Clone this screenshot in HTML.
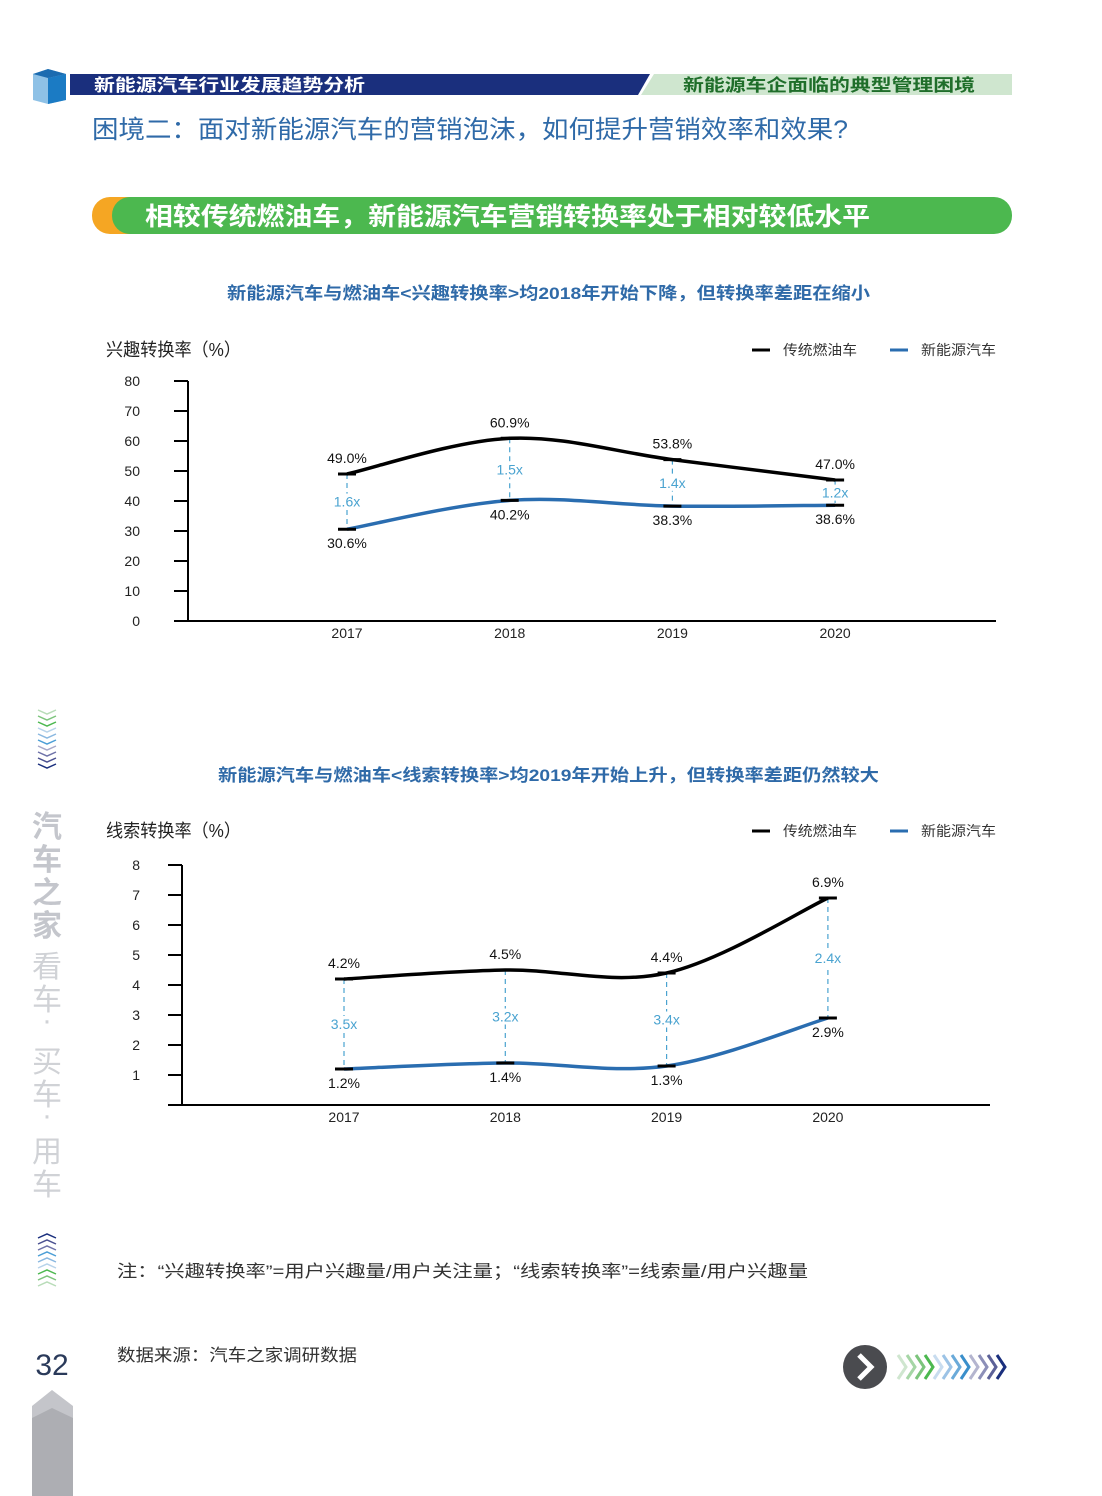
<!DOCTYPE html>
<html><head><meta charset="utf-8">
<style>
body{margin:0;width:1102px;height:1496px;background:#fff;position:relative;overflow:hidden;font-family:"Liberation Sans","Noto Sans CJK SC",sans-serif;}
.abs{position:absolute;}
svg text{font-family:"Liberation Sans","Noto Sans CJK SC",sans-serif;}
</style></head><body>
<svg class="abs" style="left:0;top:0" width="1102" height="1496">
  <g>
    <polygon points="33,74 48,69 66,74 66,100 48,104 33,100" fill="#8ec1e6"/>
    <polygon points="48,78 66,74 66,100 48,104" fill="#1b7bc4"/>
    <polygon points="33,74 48,69 66,74 48,78" fill="#1b6bb0"/>
    <polygon points="70,74 650,74 638,95 70,95" fill="#1a2f7d"/>
    <polygon points="654,74 1012,74 1012,95 641,95" fill="#cfe6cf"/>
    <text x="94" y="91" font-size="17" font-weight="bold" fill="#fff" textLength="271" lengthAdjust="spacingAndGlyphs">新能源汽车行业发展趋势分析</text>
    <text x="683" y="91" font-size="17" font-weight="bold" fill="#1f6e2a" textLength="292" lengthAdjust="spacingAndGlyphs">新能源车企面临的典型管理困境</text>
  </g>
  <text x="92" y="138" font-size="25" fill="#2f6aa8" textLength="756" lengthAdjust="spacingAndGlyphs">困境二：面对新能源汽车的营销泡沫，如何提升营销效率和效果?</text>
  <g>
    <rect x="92" y="197" width="60" height="37" rx="18" fill="#f5a623"/>
    <rect x="112" y="197" width="900" height="37" rx="18" fill="#4cb84f"/>
    <text x="145" y="225" font-size="25" font-weight="bold" fill="#fff" textLength="725" lengthAdjust="spacingAndGlyphs">相较传统燃油车，新能源汽车营销转换率处于相对较低水平</text>
  </g>
  <text x="227" y="299" font-size="17" font-weight="bold" fill="#2f6aa8" textLength="643" lengthAdjust="spacingAndGlyphs">新能源汽车与燃油车&lt;兴趣转换率&gt;均2018年开始下降，但转换率差距在缩小</text>
  <text x="218" y="781" font-size="17" font-weight="bold" fill="#2f6aa8" textLength="661" lengthAdjust="spacingAndGlyphs">新能源汽车与燃油车&lt;线索转换率&gt;均2019年开始上升，但转换率差距仍然较大</text>
  <g id="c1"></g>
  <g id="c2"></g>
  <g>
    <g fill="none" stroke-width="1.5">
      <path d="M38,710 l9,4 l9,-4" stroke="#b8dcb8"/><path d="M38,716 l9,4 l9,-4" stroke="#7cc47c"/><path d="M38,722 l9,4 l9,-4" stroke="#4cb84f"/>
      <path d="M38,728 l9,4 l9,-4" stroke="#b7d3ea"/><path d="M38,734 l9,4 l9,-4" stroke="#8ab8e0"/><path d="M38,740 l9,4 l9,-4" stroke="#4b9ed6"/>
      <path d="M38,746 l9,4 l9,-4" stroke="#a7a9c9"/><path d="M38,752 l9,4 l9,-4" stroke="#6e72a8"/><path d="M38,758 l9,4 l9,-4" stroke="#4a5090"/><path d="M38,764 l9,4 l9,-4" stroke="#1a2f7d"/>
      <path d="M38,1238 l9,-4 l9,4" stroke="#1a2f7d"/><path d="M38,1244 l9,-4 l9,4" stroke="#4a5090"/><path d="M38,1250 l9,-4 l9,4" stroke="#6e72a8"/><path d="M38,1256 l9,-4 l9,4" stroke="#4b9ed6"/>
      <path d="M38,1262 l9,-4 l9,4" stroke="#8ab8e0"/><path d="M38,1268 l9,-4 l9,4" stroke="#b7d3ea"/><path d="M38,1274 l9,-4 l9,4" stroke="#4cb84f"/><path d="M38,1280 l9,-4 l9,4" stroke="#7cc47c"/><path d="M38,1286 l9,-4 l9,4" stroke="#b8dcb8"/>
    </g>
    <text font-size="30" fill="#c4c6cc" font-weight="bold">
      <tspan x="32" y="837">汽</tspan><tspan x="32" y="870">车</tspan><tspan x="32" y="903">之</tspan><tspan x="32" y="936">家</tspan></text>
    <text font-size="30" fill="#d0d2d6">
      <tspan x="32" y="977">看</tspan><tspan x="32" y="1010">车</tspan><tspan x="42" y="1030">·</tspan><tspan x="32" y="1072">买</tspan><tspan x="32" y="1105">车</tspan><tspan x="42" y="1125">·</tspan><tspan x="32" y="1162">用</tspan><tspan x="32" y="1195">车</tspan></text>
    <text x="52" y="1375" font-size="30" fill="#2a3a5a" text-anchor="middle">32</text>
    <polygon points="32,1406 52,1390 73,1406 73,1496 32,1496" fill="#c4c5ca"/>
    <polygon points="32,1418 52,1408 73,1418 73,1496 32,1496" fill="#adaeb3"/>
  </g>
  <text x="117" y="1277" font-size="17" fill="#333" textLength="691" lengthAdjust="spacingAndGlyphs">注：“兴趣转换率”=用户兴趣量/用户关注量；“线索转换率”=线索量/用户兴趣量</text>
  <text x="117" y="1361" font-size="17" fill="#333" textLength="240" lengthAdjust="spacingAndGlyphs">数据来源：汽车之家调研数据</text>
  <g>
    <circle cx="865" cy="1367" r="22" fill="#4a4b4f"/>
    <path d="M859,1355 l12,12 l-12,12" fill="none" stroke="#fff" stroke-width="5"/>
    <g fill="none" stroke-width="3">
      <path d="M898,1355 l8,12 l-8,12" stroke="#cfe6cf"/><path d="M907,1355 l8,12 l-8,12" stroke="#a6d6a6"/><path d="M916,1355 l8,12 l-8,12" stroke="#7cc47c"/><path d="M925,1355 l8,12 l-8,12" stroke="#4cb84f"/>
      <path d="M934,1355 l8,12 l-8,12" stroke="#c8dcef"/><path d="M943,1355 l8,12 l-8,12" stroke="#9cc3e6"/><path d="M952,1355 l8,12 l-8,12" stroke="#6aaad9"/><path d="M961,1355 l8,12 l-8,12" stroke="#3a8fcb"/>
      <path d="M970,1355 l8,12 l-8,12" stroke="#b4b5cf"/><path d="M979,1355 l8,12 l-8,12" stroke="#8c8fb8"/><path d="M988,1355 l8,12 l-8,12" stroke="#5c6198"/><path d="M997,1355 l8,12 l-8,12" stroke="#1a2f7d"/>
    </g>
  </g>
</svg>
<script>
const years=["2017","2018","2019","2020"];
const ice1=[49.0,60.9,53.8,47.0];
const nev1=[30.6,40.2,38.3,38.6];
const ratio1=["1.6x","1.5x","1.4x","1.2x"];
const ticks1=[0,10,20,30,40,50,60,70,80];
const ice2=[4.2,4.5,4.4,6.9];
const nev2=[1.2,1.4,1.3,2.9];
const ratio2=["3.5x","3.2x","3.4x","2.4x"];
const ticks2=[1,2,3,4,5,6,7,8];
const NS="http://www.w3.org/2000/svg";
function mk(g,tag,attrs,txt){const e=document.createElementNS(NS,tag);for(const k in attrs)e.setAttribute(k,attrs[k]);if(txt!==undefined)e.textContent=txt;g.appendChild(e);return e;}
function smooth(p){let d="M"+p[0][0]+","+p[0][1];for(let i=0;i<p.length-1;i++){const p0=p[i-1]||p[i],p1=p[i],p2=p[i+1],p3=p[i+2]||p2;const t=0.17;
d+=" C"+(p1[0]+(p2[0]-p0[0])*t)+","+(p1[1]+(p2[1]-p0[1])*t)+" "+(p2[0]-(p3[0]-p1[0])*t)+","+(p2[1]-(p3[1]-p1[1])*t)+" "+p2[0]+","+p2[1];}return d;}
function chart(id,o){
  const g=document.getElementById(id);
  const y=v=>o.y0-(v-o.vmin)*o.ppu;
  const x=i=>o.x0+i*o.step;
  let t=mk(g,"text",{x:106,y:o.titleY,"font-size":18,fill:"#222",textLength:135,lengthAdjust:"spacingAndGlyphs"},o.ytitle);
  
  
  let ax=mk(g,"line",{x1:o.axX,y1:y(o.vmax),x2:o.axX,y2:o.baseY,stroke:"#000","stroke-width":2});
  
  
  let bx=mk(g,"line",{x1:o.axX-14,y1:o.baseY,x2:o.xEnd,y2:o.baseY,stroke:"#000","stroke-width":2});
  
  
  o.ticks.forEach(v=>{
    let l=mk(g,"line",{x1:o.axX-14,y1:y(v),x2:o.axX,y2:y(v),stroke:"#000","stroke-width":2});
    
    
    let tt=mk(g,"text",{x:140,y:y(v)+5,"font-size":14,fill:"#222","text-anchor":"end"},v);
    
    
  });
  years.forEach((yr,i)=>{let tt=mk(g,"text",{x:x(i),y:o.baseY+17,"font-size":14,fill:"#222","text-anchor":"middle"},yr);});
  let lg=mk(g,"g",{});
  
  
  mk(lg,"line",{x1:752,y1:o.titleY-6,x2:770,y2:o.titleY-6,stroke:"#000","stroke-width":3});
  mk(lg,"text",{x:783,y:o.titleY-1,"font-size":14,fill:"#333",textLength:74,lengthAdjust:"spacingAndGlyphs"},"传统燃油车");
  mk(lg,"line",{x1:890,y1:o.titleY-6,x2:908,y2:o.titleY-6,stroke:"#2a6db0","stroke-width":3});
  mk(lg,"text",{x:921,y:o.titleY-1,"font-size":14,fill:"#333",textLength:75,lengthAdjust:"spacingAndGlyphs"},"新能源汽车");
  const pi=o.ice.map((v,i)=>[x(i),y(v)]), pn=o.nev.map((v,i)=>[x(i),y(v)]);
  o.ice.forEach((v,i)=>{
    let d=mk(g,"line",{x1:x(i),y1:y(v),x2:x(i),y2:y(o.nev[i]),stroke:"#4aa3d0","stroke-width":1.2,"stroke-dasharray":"5,4"});
    
    
  });
  let a=mk(g,"path",{d:smooth(pi),fill:"none",stroke:"#000","stroke-width":3.5});
  
  
  let b=mk(g,"path",{d:smooth(pn),fill:"none",stroke:"#2a6db0","stroke-width":3.5});
  
  
  o.ice.forEach((v,i)=>{
    const xi=x(i),yi=y(v),yn=y(o.nev[i]);
    let m1=mk(g,"line",{x1:xi-9,y1:yi,x2:xi+9,y2:yi,stroke:"#000","stroke-width":3});
    
    
    let m2=mk(g,"line",{x1:xi-9,y1:yn,x2:xi+9,y2:yn,stroke:"#000","stroke-width":3});
    
    
    let l1=mk(g,"text",{x:xi,y:yi-11,"font-size":14,fill:"#111","text-anchor":"middle"},v.toFixed(1)+"%");
    
    
    let l2=mk(g,"text",{x:xi,y:yn+19,"font-size":14,fill:"#111","text-anchor":"middle"},o.nev[i].toFixed(1)+"%");
    
    
    let bg=mk(g,"rect",{x:xi-13,y:(yi+yn)/2-8,width:26,height:16,fill:"#fff"});
    
    
    let r=mk(g,"text",{x:xi,y:(yi+yn)/2+5,"font-size":14,fill:"#4aa3d0","text-anchor":"middle"},o.ratio[i]);
    
    
  });
}
chart("c1",{ytitle:"兴趣转换率（%）",titleY:356,ice:ice1,nev:nev1,ratio:ratio1,ticks:ticks1,vmin:0,vmax:80,y0:621,ppu:3,baseY:621,axX:188,x0:347,step:162.7,xEnd:996});
chart("c2",{ytitle:"线索转换率（%）",titleY:837,ice:ice2,nev:nev2,ratio:ratio2,ticks:ticks2,vmin:0,vmax:8,y0:1105,ppu:30,baseY:1105,axX:182,x0:344,step:161.3,xEnd:990});
</script>
</body></html>
